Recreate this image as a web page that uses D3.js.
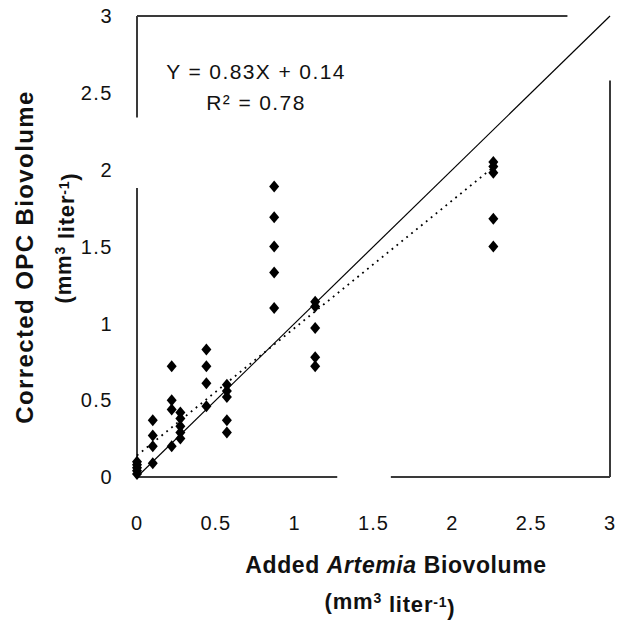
<!DOCTYPE html>
<html>
<head>
<meta charset="utf-8">
<script src="https://cdn.jsdelivr.net/npm/d3@7"></script>
<style>
  body { margin: 0; background: #fff; }
  text { font-family: "Liberation Sans", Arial, sans-serif; fill: #111; }
</style>
</head>
<body>
<div id="chart"></div>
<script>
// Data: added Artemia biovolume (x) vs corrected OPC biovolume (y)
const addedX = [
    0, 0, 0, 0, 0,
    0.10, 0.10, 0.10, 0.10,
    0.22, 0.22, 0.22, 0.22,
    0.275, 0.275, 0.275, 0.275, 0.275,
    0.44, 0.44, 0.44, 0.44,
    0.57, 0.57, 0.57, 0.57, 0.57,
    0.87, 0.87, 0.87, 0.87, 0.87,
    1.13, 1.13, 1.13, 1.13, 1.13,
    2.26, 2.26, 2.26, 2.26, 2.26
];
const correctedY = [
    0.02, 0.04, 0.06, 0.08, 0.10,
    0.37, 0.27, 0.20, 0.09,
    0.72, 0.50, 0.44, 0.20,
    0.42, 0.38, 0.33, 0.29, 0.25,
    0.83, 0.72, 0.61, 0.46,
    0.60, 0.56, 0.52, 0.37, 0.29,
    1.89, 1.69, 1.50, 1.33, 1.10,
    1.14, 1.11, 0.97, 0.78, 0.72,
    2.05, 2.02, 1.98, 1.68, 1.50
];
const xTicks = [0, 0.5, 1, 1.5, 2, 2.5, 3];
const yTicks = [0, 0.5, 1, 1.5, 2, 2.5, 3];
const fitSlope = 0.83, fitIntercept = 0.14;
const equationLines = ["Y = 0.83X + 0.14", "R\u00B2 = 0.78"];

const svgWidth = 617, svgHeight = 623;
const margin = { top: 16, right: 7, bottom: 146, left: 137 };

const svg = d3.select("#chart")
    .append("svg")
    .attr("width", svgWidth)
    .attr("height", svgHeight);

const x = d3.scaleLinear().domain([0, 3]).range([margin.left, svgWidth - margin.right]);
const y = d3.scaleLinear().domain([0, 3]).range([svgHeight - margin.bottom, margin.top]);

// Frame (the printed figure has a few broken stretches in its border)
const frameSegs = [
    [[0, 3], [2.73, 3]],
    [[3, 2.58], [3, 0]],
    [[0, 0], [1.27, 0]],
    [[1.61, 0], [3, 0]],
    [[0, 3], [0, 2.34]],
    [[0, 1.88], [0, 0]]
];
svg.append("g")
    .selectAll("line")
    .data(frameSegs)
    .enter().append("line")
    .attr("x1", d => x(d[0][0]))
    .attr("y1", d => y(d[0][1]))
    .attr("x2", d => x(d[1][0]))
    .attr("y2", d => y(d[1][1]))
    .attr("stroke", "#3a3a3a")
    .attr("stroke-width", 2);

// Tick labels
svg.append("g")
    .selectAll("text")
    .data(xTicks)
    .enter().append("text")
    .attr("x", d => x(d))
    .attr("y", 530)
    .attr("text-anchor", "middle")
    .style("font-size", "20px")
    .style("letter-spacing", "1px")
    .text(d => d);

svg.append("g")
    .selectAll("text")
    .data(yTicks)
    .enter().append("text")
    .attr("x", 113)
    .attr("y", d => y(d))
    .attr("dy", "0.36em")
    .attr("text-anchor", "end")
    .style("font-size", "20px")
    .style("letter-spacing", "1.5px")
    .text(d => d);

// 1:1 line
svg.append("line")
    .attr("x1", x(0)).attr("y1", y(0))
    .attr("x2", x(3)).attr("y2", y(3))
    .attr("stroke", "#000")
    .attr("stroke-width", 1.2);

// Regression line (dotted)
const xMax = d3.max(addedX);
svg.append("line")
    .attr("x1", x(0)).attr("y1", y(fitIntercept))
    .attr("x2", x(xMax)).attr("y2", y(fitSlope * xMax + fitIntercept))
    .attr("stroke", "#000")
    .attr("stroke-width", 1.8)
    .attr("stroke-dasharray", "1.8,4.5");

// Points
const diamond = "M0,-6L5,0L0,6L-5,0Z";
svg.append("g")
    .selectAll("path")
    .data(addedX.map((v, i) => [v, correctedY[i]]))
    .enter().append("path")
    .attr("d", diamond)
    .attr("transform", d => `translate(${x(d[0])},${y(d[1])})`)
    .attr("fill", "#000");

// Equation
svg.append("g")
    .selectAll("text")
    .data(equationLines)
    .enter().append("text")
    .attr("x", 256)
    .attr("y", (d, i) => 79 + i * 31)
    .attr("text-anchor", "middle")
    .style("font-size", "21px")
    .style("letter-spacing", "1.4px")
    .text(d => d);

// X axis title
const xTitle = svg.append("text")
    .attr("x", 396)
    .attr("y", 573)
    .attr("text-anchor", "middle")
    .style("font-size", "23px")
    .style("letter-spacing", "0.6px")
    .style("font-weight", "bold");
xTitle.append("tspan").text("Added ");
xTitle.append("tspan").style("font-style", "italic").text("Artemia");
xTitle.append("tspan").text(" Biovolume");

const xUnits = svg.append("text")
    .attr("x", 390)
    .attr("y", 609)
    .attr("text-anchor", "middle")
    .style("font-size", "22px")
    .style("letter-spacing", "0.8px")
    .style("font-weight", "bold");
xUnits.append("tspan").text("(mm");
xUnits.append("tspan").attr("dy", "-0.4em").style("font-size", "14px").text("3");
xUnits.append("tspan").attr("dy", "0.4em").text(" liter");
xUnits.append("tspan").attr("dy", "-0.4em").style("font-size", "14px").text("-1");
xUnits.append("tspan").attr("dy", "0.4em").text(")");

// Y axis title
svg.append("text")
    .attr("transform", "translate(33, 257) rotate(-90)")
    .attr("text-anchor", "middle")
    .style("font-size", "24px")
    .style("letter-spacing", "1.4px")
    .style("font-weight", "bold")
    .text("Corrected OPC Biovolume");

const yUnits = svg.append("text")
    .attr("transform", "translate(71, 238) rotate(-90)")
    .attr("text-anchor", "middle")
    .style("font-size", "22px")
    .style("letter-spacing", "0.8px")
    .style("font-weight", "bold");
yUnits.append("tspan").text("(mm");
yUnits.append("tspan").attr("dy", "-0.4em").style("font-size", "14px").text("3");
yUnits.append("tspan").attr("dy", "0.4em").text(" liter");
yUnits.append("tspan").attr("dy", "-0.4em").style("font-size", "14px").text("-1");
yUnits.append("tspan").attr("dy", "0.4em").text(")");
</script>
</body>
</html>
